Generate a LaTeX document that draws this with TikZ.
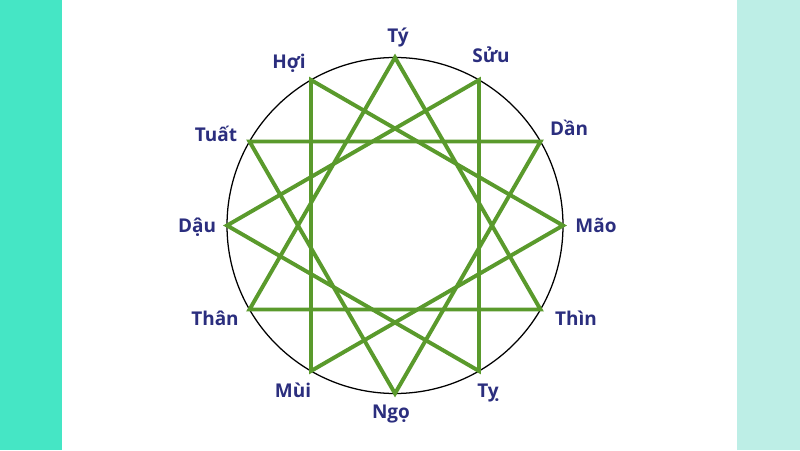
\documentclass[tikz,border=0pt]{standalone}
\usepackage{fontspec}
\setmainfont{Open Sans}
\usetikzlibrary{calc}
\definecolor{leftband}{HTML}{45E6C5}
\definecolor{rightband}{HTML}{BDEEE6}
\definecolor{stargreen}{HTML}{5A9A2C}
\definecolor{labelblue}{HTML}{2B2E7E}
\tikzset{chi/.style={font=\fontsize{13.5}{16}\selectfont\bfseries, text=labelblue, anchor=base, inner sep=0pt}}

\begin{document}
\begin{tikzpicture}
	%%%%% START %%%%%
	
	\useasboundingbox (0,0) rectangle (20,11.25);
	\fill[leftband] (0,0) rectangle (1.55,11.25);
	\fill[rightband] (18.425,0) rectangle (20,11.25);
	
	\coordinate (O) at (9.875,5.6125);
	\draw[line width=0.9pt] (O) circle (4.2);
	
	\coordinate (ty) at ($(O)+(90:4.2)$);
	\coordinate (suu) at ($(O)+(60:4.2)$);
	\coordinate (dan) at ($(O)+(30:4.2)$);
	\coordinate (mao) at ($(O)+(0:4.2)$);
	\coordinate (thin) at ($(O)+(-30:4.2)$);
	\coordinate (tyj) at ($(O)+(-60:4.2)$);
	\coordinate (ngo) at ($(O)+(-90:4.2)$);
	\coordinate (mui) at ($(O)+(-120:4.2)$);
	\coordinate (than) at ($(O)+(-150:4.2)$);
	\coordinate (dau) at ($(O)+(180:4.2)$);
	\coordinate (tuat) at ($(O)+(150:4.2)$);
	\coordinate (hoi) at ($(O)+(120:4.2)$);
	
	\draw[stargreen, line width=2.8pt, line join=miter] (ty) -- (thin) -- (than) -- cycle;
	\draw[stargreen, line width=2.8pt, line join=miter] (suu) -- (tyj) -- (dau) -- cycle;
	\draw[stargreen, line width=2.8pt, line join=miter] (dan) -- (ngo) -- (tuat) -- cycle;
	\draw[stargreen, line width=2.8pt, line join=miter] (mao) -- (mui) -- (hoi) -- cycle;
	
	\node[chi] (nty) at (9.95,10.175) {Tý};
	\node[chi] (nsuu) at (12.275,9.675) {Sửu};
	\node[chi] (ndan) at (14.225,7.85) {Dần};
	\node[chi] (nmao) at (14.9,5.45) {Mão};
	\node[chi] (nthin) at (14.4,3.125) {Thìn};
	\node[chi] (ntyj) at (12.2,1.325) {Tỵ};
	\node[chi] (nngo) at (9.775,0.8) {Ngọ};
	\node[chi] (nmui) at (7.325,1.325) {Mùi};
	\node[chi] (nthan) at (5.375,3.125) {Thân};
	\node[chi] (ndau) at (4.925,5.45) {Dậu};
	\node[chi] (ntuat) at (5.4,7.7) {Tuất};
	\node[chi] (nhoi) at (7.225,9.525) {Hợi};
	
	%%%%% END %%%%%
\end{tikzpicture}
\end{document}
